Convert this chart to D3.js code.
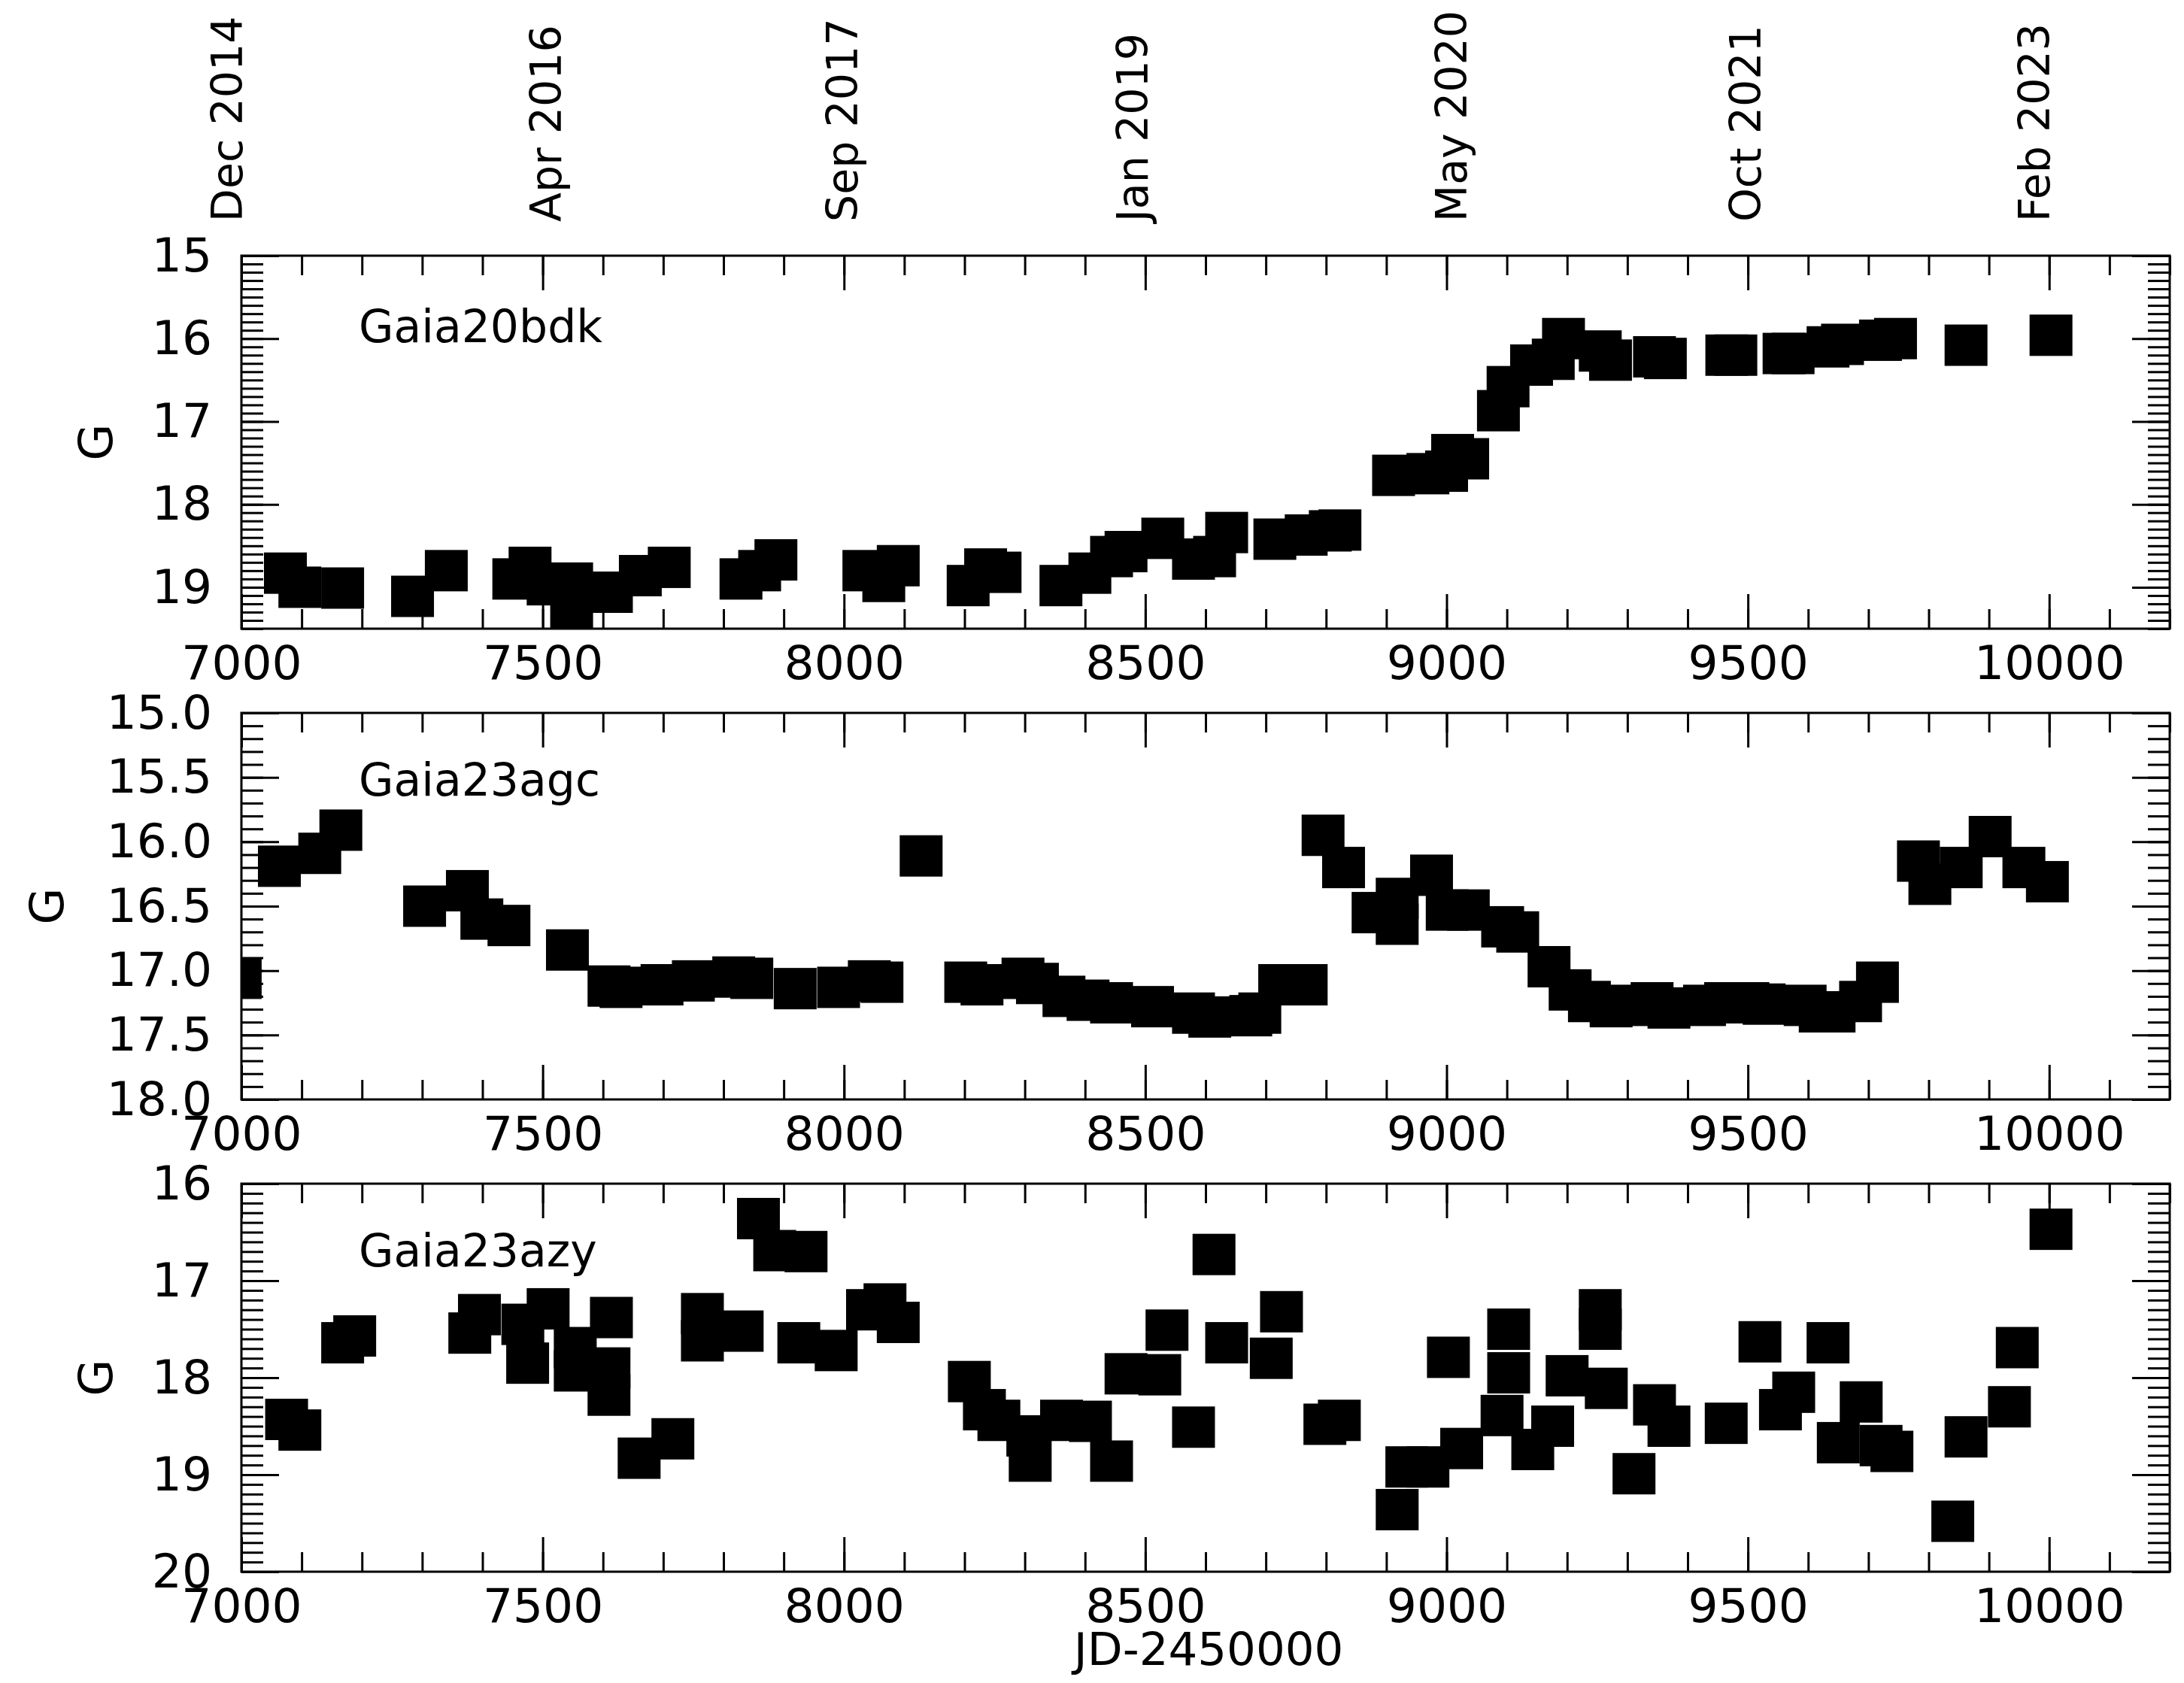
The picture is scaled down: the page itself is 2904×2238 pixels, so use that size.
<!DOCTYPE html>
<html>
<head>
<meta charset="utf-8">
<script src="https://cdn.jsdelivr.net/npm/d3@7"></script>
<style>
  html, body { margin: 0; padding: 0; background: #ffffff; }
  svg { display: block; }
</style>
</head>
<body>
<div id="chart"></div>
<script>
// ---------------- data ----------------
const bdkJD = [7073,7097,7168,7284,7340,7452,7479,7509,7548,7548,7614,7662,7710,7829,7860,7887,
  8033,8066,8090,8206,8235,8259,8360,8408,8444,8468,8529,8580,8615,8635,8715,8767,8807,8823,
  8912,8969,9000,9010,9035,9086,9102,9141,9177,9194,9255,9272,9345,9363,9465,9480,9560,9575,
  9633,9657,9720,9745,9862,10003];
const bdkG = [18.83,19.00,19.01,19.11,18.80,18.90,18.76,18.97,18.95,19.25,19.06,18.86,18.76,18.90,18.80,18.67,
  18.80,18.93,18.74,18.98,18.78,18.82,18.98,18.83,18.63,18.57,18.41,18.66,18.63,18.34,18.42,18.37,18.32,18.31,
  17.65,17.63,17.60,17.40,17.45,16.87,16.58,16.32,16.25,16.00,16.15,16.26,16.22,16.24,16.20,16.20,16.18,16.18,
  16.10,16.07,16.02,16.00,16.08,15.96];

const agcJD = [6998,7063,7130,7165,7304,7375,7399,7444,7541,7610,7630,7698,7750,7817,7847,7919,7991,8042,8063,
  8128,8202,8229,8297,8321,8365,8405,8444,8512,8580,8607,8675,8690,8723,8767,8795,8829,8878,8918,8918,
  8975,9001,9036,9093,9118,9170,9205,9237,9273,9305,9341,9369,9428,9463,9500,9527,9595,9620,9643,9687,
  9715,9783,9802,9854,9902,9958,9997];
const agcG = [17.06,16.19,16.09,15.91,16.50,16.38,16.60,16.65,16.84,17.12,17.13,17.11,17.08,17.05,17.06,17.14,17.13,17.08,17.09,
  16.11,17.09,17.11,17.06,17.10,17.20,17.23,17.25,17.28,17.33,17.36,17.35,17.33,17.11,17.11,15.95,16.20,16.55,16.44,16.64,
  16.26,16.53,16.53,16.66,16.70,16.97,17.15,17.24,17.28,17.27,17.25,17.29,17.27,17.25,17.25,17.26,17.27,17.32,17.32,17.24,
  17.09,16.15,16.33,16.20,15.96,16.20,16.31];

const azyJD = [7075,7097,7168,7188,7379,7395,7467,7475,7509,7554,7554,7610,7610,7614,7660,7716,7765,7765,7831,7858,
  7885,7925,7937,7987,8039,8068,8090,8208,8233,8257,8305,8309,8361,8409,8444,8468,8524,8536,8580,8614,8635,8709,
  8726,8798,8822,8918,8934,8969,9003,9025,9092,9103,9103,9143,9176,9200,9255,9255,9265,9311,9345,9369,9464,9520,
  9554,9576,9633,9650,9688,9721,9739,9840,9862,9934,9947,10003];
const azyG = [18.43,18.54,17.64,17.57,17.54,17.35,17.45,17.85,17.29,17.69,17.93,17.90,18.18,17.38,18.83,18.63,17.34,17.62,17.52,16.36,
  16.69,17.64,16.70,17.72,17.30,17.24,17.43,18.04,18.33,18.44,18.60,18.86,18.44,18.45,18.86,17.96,17.97,17.51,18.51,16.73,17.64,17.80,
  17.32,18.48,18.44,19.36,18.92,18.92,17.79,18.73,18.39,17.50,17.95,18.74,18.50,17.98,17.30,17.50,18.11,18.99,18.28,18.50,18.47,17.63,
  18.33,18.15,17.64,18.67,18.25,18.70,18.76,19.48,18.61,18.30,17.69,16.47];

const panelNames = ["Gaia20bdk", "Gaia23agc", "Gaia23azy"];
const dateLabels = ["Dec 2014","Apr 2016","Sep 2017","Jan 2019","May 2020","Oct 2021","Feb 2023"];
const dateLabelJD = [6975,7505,7996,8478,9007,9496,9975];
const xMajorTicks = [7000,7500,8000,8500,9000,9500,10000];

// ---------------- layout ----------------
const W = 2904, H = 2238;
const FONT = "'DejaVu Sans', Verdana, sans-serif";
const left = 321, right = 2885;
const panels = [
  {name: panelNames[0], jd: bdkJD, g: bdkG, top: 340, bottom: 836, dom: [15, 19.5], major: 1, fmt: d3.format("d"), gx: 126},
  {name: panelNames[1], jd: agcJD, g: agcG, top: 948, bottom: 1462, dom: [15, 18], major: 0.5, fmt: d3.format(".1f"), gx: 61},
  {name: panelNames[2], jd: azyJD, g: azyG, top: 1574, bottom: 2090, dom: [16, 20], major: 1, fmt: d3.format("d"), gx: 126}
];

const svg = d3.select("#chart").append("svg")
  .attr("width", W).attr("height", H)
  .attr("viewBox", `0 0 ${W} ${H}`);
svg.append("rect").attr("width", W).attr("height", H).attr("fill", "#fff");

const x = d3.scaleLinear().domain([7000, 10200]).range([left, right]);
const xMinor = d3.range(7000, 10201, 100);

const SW = 3;
const MAJ = 46, MIN = 26, YMAJ = 50, YMIN = 29;

function styleAxis(g) {
  g.select(".domain").remove();
  g.selectAll(".tick line").attr("stroke", "#000").attr("stroke-width", SW);
  g.selectAll("text").attr("fill", "#000").attr("font-family", FONT).attr("font-size", 63);
  g.attr("font-family", FONT).attr("font-size", 63);
}

panels.forEach((p, i) => {
  const y = d3.scaleLinear().domain(p.dom).range([p.top, p.bottom]);
  const yMinor = d3.range(p.dom[0], p.dom[1] + 1e-6, 0.1).map(v => +v.toFixed(2));
  const yMajor = d3.range(p.dom[0], p.dom[1] + 1e-6, p.major).map(v => +v.toFixed(2));
  const g = svg.append("g");

  const clipId = "clip" + i;
  svg.append("clipPath").attr("id", clipId).append("rect")
    .attr("x", left).attr("y", p.top).attr("width", right - left).attr("height", p.bottom - p.top);

  // data squares
  const pts = p.jd.map((d, k) => ({jd: d, g: p.g[k]}));
  g.append("g").attr("clip-path", `url(#${clipId})`)
    .selectAll("rect").data(pts).join("rect")
    .attr("x", d => x(d.jd) - 28.5)
    .attr("y", d => y(d.g) - 27.5)
    .attr("width", 57).attr("height", 55)
    .attr("fill", "#000");

  // x ticks bottom (minor, major with labels)
  g.append("g").attr("transform", `translate(0,${p.bottom})`)
    .call(d3.axisBottom(x).tickValues(xMinor).tickSize(-MIN).tickFormat(""))
    .call(styleAxis);
  g.append("g").attr("transform", `translate(0,${p.bottom})`)
    .call(d3.axisBottom(x).tickValues(xMajorTicks).tickSize(-MAJ).tickPadding(22).tickFormat(d3.format("d")))
    .call(styleAxis);
  // x ticks top
  g.append("g").attr("transform", `translate(0,${p.top})`)
    .call(d3.axisTop(x).tickValues(xMinor).tickSize(-MIN).tickFormat(""))
    .call(styleAxis);
  g.append("g").attr("transform", `translate(0,${p.top})`)
    .call(d3.axisTop(x).tickValues(xMajorTicks).tickSize(-MAJ).tickFormat(""))
    .call(styleAxis);

  // y ticks left
  g.append("g").attr("transform", `translate(${left},0)`)
    .call(d3.axisLeft(y).tickValues(yMinor).tickSize(-YMIN).tickFormat(""))
    .call(styleAxis);
  g.append("g").attr("transform", `translate(${left},0)`)
    .call(d3.axisLeft(y).tickValues(yMajor).tickSize(-YMAJ).tickPadding(39).tickFormat(p.fmt))
    .call(styleAxis);
  // y ticks right
  g.append("g").attr("transform", `translate(${right},0)`)
    .call(d3.axisRight(y).tickValues(yMinor).tickSize(-YMIN).tickFormat(""))
    .call(styleAxis);
  g.append("g").attr("transform", `translate(${right},0)`)
    .call(d3.axisRight(y).tickValues(yMajor).tickSize(-YMAJ).tickFormat(""))
    .call(styleAxis);

  // frame
  g.append("rect")
    .attr("x", left).attr("y", p.top)
    .attr("width", right - left).attr("height", p.bottom - p.top)
    .attr("fill", "none").attr("stroke", "#000").attr("stroke-width", SW);

  // panel name
  g.append("text")
    .attr("x", 477).attr("y", p.top + (i === 0 ? 115 : 110))
    .attr("font-family", FONT).attr("font-size", 60).attr("fill", "#000")
    .text(p.name);

  // y label
  g.append("text")
    .attr("transform", `translate(${p.gx},${(p.top + p.bottom) / 2}) rotate(-90)`)
    .attr("text-anchor", "middle").attr("dy", "0.36em")
    .attr("font-family", FONT).attr("font-size", 63).attr("fill", "#000")
    .text("G");
});

// x label
svg.append("text")
  .attr("x", (left + right) / 2 + 4).attr("y", 2214)
  .attr("text-anchor", "middle")
  .attr("font-family", FONT).attr("font-size", 61).attr("fill", "#000")
  .text("JD-2450000");

// top calendar labels
svg.append("g").selectAll("text").data(dateLabels).join("text")
  .attr("transform", (d, k) => `translate(${x(dateLabelJD[k])},295) rotate(-90)`)
  .attr("dy", "0.36em")
  .attr("text-anchor", "start")
  .attr("font-family", FONT).attr("font-size", 57).attr("fill", "#000")
  .text(d => d);
</script>
</body>
</html>
